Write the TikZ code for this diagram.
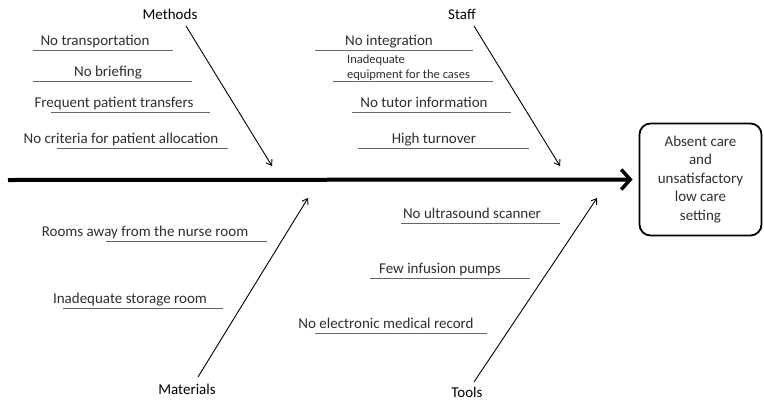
\documentclass[tikz,border=0pt]{standalone}
\usepackage{fontspec}
\setmainfont{Carlito}
\usetikzlibrary{arrows.meta}
\begin{document}
\begin{tikzpicture}[x=1pt,y=-1pt,
  lbl/.style={font=\fontsize{15}{18.5}\selectfont, text=black!82, inner sep=0pt, anchor=base},
  small/.style={font=\fontsize{12.5}{15}\selectfont, text=black!82, inner sep=0pt, anchor=base west},
  cat/.style={font=\fontsize{15}{18.5}\selectfont, text=black, inner sep=0pt, anchor=base},
  uline/.style={draw=black!60, line width=0.9pt},
  bone/.style={draw=black, line width=0.9pt, -{Straight Barb[length=5pt,width=7pt]}},
  spine/.style={draw=black, line width=4pt, -{Straight Barb[length=9pt,width=20pt,line width=3.5pt]}},
  effectbox/.style={draw=black, line width=1.8pt, rounded corners=11pt, minimum width=122pt, minimum height=112pt, align=center, font=\fontsize{15}{18.5}\selectfont, text=black!82, inner sep=0pt}
]
\useasboundingbox (0,0) rectangle (764,400);

% effect
\node[effectbox] (effect) at (700.5,179.5) {Absent care\\and\\unsatisfactory\\low care\\setting};

% spine
\coordinate (tail) at (8,180);
\draw[spine] (tail) -- ([xshift=-6pt]effect.west);

% categories
\node[cat] (methods) at (170,19) {Methods};
\node[cat] (staff) at (462,19) {Staff};
\node[cat] (materials) at (187,394) {Materials};
\node[cat] (tools) at (467,397.5) {Tools};

% bones
\coordinate (m0) at (186,26); \coordinate (m1) at (272,166);
\coordinate (s0) at (474,26); \coordinate (s1) at (560,166);
\coordinate (ma0) at (198,377); \coordinate (ma1) at (308,198);
\coordinate (t0) at (474,382); \coordinate (t1) at (597,198);
\draw[bone] (m0) -- (m1);
\draw[bone] (s0) -- (s1);
\draw[bone] (ma0) -- (ma1);
\draw[bone] (t0) -- (t1);

% Methods causes
\node[lbl] (c1) at (95,45) {No transportation};
\coordinate (c1a) at (33,50); \coordinate (c1b) at (173,50);
\draw[uline] (c1a) -- (c1b);
\node[lbl] (c2) at (108,76) {No briefing};
\coordinate (c2a) at (33,81); \coordinate (c2b) at (192,81);
\draw[uline] (c2a) -- (c2b);
\node[lbl] (c3) at (114,107) {Frequent patient transfers};
\coordinate (c3a) at (51,112); \coordinate (c3b) at (210,112);
\draw[uline] (c3a) -- (c3b);
\node[lbl] (c4) at (121,143) {No criteria for patient allocation};
\coordinate (c4a) at (57,148); \coordinate (c4b) at (228,148);
\draw[uline] (c4a) -- (c4b);

% Staff causes
\node[lbl] (s1t) at (389,45) {No integration};
\coordinate (s1a) at (315,50); \coordinate (s1b) at (473,50);
\draw[uline] (s1a) -- (s1b);
\node[small] (s2t) at (347,63.5) {Inadequate};
\node[small] (s2u) at (347,78) {equipment for the cases};
\coordinate (s2a) at (333,81); \coordinate (s2b) at (493,81);
\draw[uline] (s2a) -- (s2b);
\node[lbl] (s3t) at (424,107) {No tutor information};
\coordinate (s3a) at (352,112); \coordinate (s3b) at (511,112);
\draw[uline] (s3a) -- (s3b);
\node[lbl] (s4t) at (434,143) {High turnover};
\coordinate (s4a) at (358,148); \coordinate (s4b) at (529,148);
\draw[uline] (s4a) -- (s4b);

% Materials causes
\node[lbl] (m1t) at (145,236) {Rooms away from the nurse room};
\coordinate (m1a) at (106,241); \coordinate (m1b) at (267,241);
\draw[uline] (m1a) -- (m1b);
\node[lbl] (m2t) at (130,303) {Inadequate storage room};
\coordinate (m2a) at (63,308); \coordinate (m2b) at (223,308);
\draw[uline] (m2a) -- (m2b);

% Tools causes
\node[lbl] (t1t) at (472,218) {No ultrasound scanner};
\coordinate (t1a) at (401,223); \coordinate (t1b) at (560,223);
\draw[uline] (t1a) -- (t1b);
\node[lbl] (t2t) at (440,273) {Few infusion pumps};
\coordinate (t2a) at (370,278); \coordinate (t2b) at (530,278);
\draw[uline] (t2a) -- (t2b);
\node[lbl] (t3t) at (386,328) {No electronic medical record};
\coordinate (t3a) at (315,333); \coordinate (t3b) at (487,333);
\draw[uline] (t3a) -- (t3b);
\end{tikzpicture}
\end{document}
